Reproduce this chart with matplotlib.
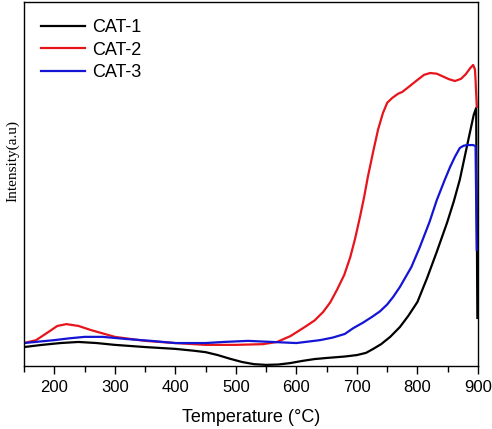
import matplotlib
matplotlib.use('Agg')
import matplotlib.pyplot as plt
from matplotlib.ticker import MultipleLocator

# temperature (deg C) and intensity (a.u.)
t_cat1 = [150, 180, 210, 240, 270, 300, 350, 400, 430, 450, 470, 490, 510, 530,
          550, 570, 590, 610, 630, 650, 680, 700, 715, 727, 740, 755, 771, 785,
          800, 816, 832, 849, 860, 870, 884, 893, 897, 899]
i_cat1 = [5.2, 5.8, 6.3, 6.6, 6.3, 5.8, 5.2, 4.7, 4.2, 3.8, 3.0, 2.0, 1.1, 0.5,
          0.3, 0.4, 0.8, 1.4, 1.9, 2.2, 2.6, 3.0, 3.6, 4.7, 6.0, 8.0, 10.7, 13.8,
          17.6, 24.2, 31.4, 39.4, 45.2, 51.2, 62.1, 69.0, 70.9, 13.2]

t_cat2 = [150, 170, 190, 205, 220, 240, 260, 300, 350, 400, 450, 500, 545, 568,
          590, 611, 630, 644, 656, 667, 679, 689, 697, 705, 712, 718, 727, 735,
          743, 750, 758, 768, 775, 788, 800, 811, 821, 832, 840, 852, 862, 872,
          880, 887, 892, 895, 896, 898]
i_cat2 = [6.3, 7.1, 9.3, 11.0, 11.5, 11.0, 9.9, 8.0, 6.9, 6.3, 5.8, 5.8, 6.0, 6.6,
          8.2, 10.4, 12.5, 14.8, 17.5, 20.9, 25.0, 29.9, 35.0, 40.9, 46.5, 51.9,
          59.0, 65.0, 69.5, 72.3, 73.6, 74.8, 75.3, 77.0, 78.6, 80.0, 80.5, 80.3,
          79.7, 78.8, 78.3, 78.9, 80.2, 81.8, 82.7, 81.5, 78.6, 71.2]

t_cat3 = [150, 175, 200, 225, 250, 280, 320, 360, 400, 450, 480, 520, 560, 600,
          639, 660, 680, 694, 710, 725, 738, 750, 760, 771, 790, 804, 820, 832,
          845, 854, 862, 870, 876, 882, 892, 896, 898]
i_cat3 = [6.3, 6.7, 7.1, 7.6, 8.0, 8.0, 7.4, 6.9, 6.3, 6.3, 6.6, 6.9, 6.6, 6.3,
          7.1, 7.8, 8.8, 10.4, 11.9, 13.5, 15.0, 16.9, 19.0, 21.7, 27.2, 32.7,
          39.6, 45.6, 51.1, 54.7, 57.5, 59.9, 60.5, 60.7, 60.7, 60.4, 31.9]

labels = ['CAT-1', 'CAT-2', 'CAT-3']
colors = ['black', '#e8141b', '#1414d4']

fig = plt.figure(figsize=(4.92, 4.29), dpi=100)
ax = fig.add_axes([0.0488, 0.1469, 0.9227, 0.8484])

for t, i, lab, c in zip([t_cat1, t_cat2, t_cat3], [i_cat1, i_cat2, i_cat3], labels, colors):
    ax.plot(t, i, color=c, lw=1.6, label=lab, solid_joinstyle='round')

ax.set_xlim(150, 900)
ax.set_ylim(0, 100)
ax.xaxis.set_major_locator(MultipleLocator(100))
ax.xaxis.set_minor_locator(MultipleLocator(50))
ax.tick_params(axis='x', which='major', direction='out', length=6, width=1,
               labelsize=12, pad=4)
ax.tick_params(axis='x', which='minor', direction='out', length=4, width=1)
ax.set_yticks([])
for lab in ax.get_xticklabels():
    lab.set_fontfamily('Liberation Sans')
for s in ax.spines.values():
    s.set_linewidth(1.0)

ax.set_xlabel('Temperature (°C)', fontsize=13, family='Liberation Sans', labelpad=10)
ax.set_ylabel('Intensity(a.u)', fontsize=11, family='Liberation Serif')
ax.yaxis.set_label_coords(-0.011, 0.563)

leg = ax.legend(loc='upper left', frameon=False, prop={'family': 'Liberation Sans', 'size': 13},
                handlelength=2.45, handletextpad=0.35, labelspacing=0.3,
                borderaxespad=0.55)

fig.savefig('out.png', dpi=100)
